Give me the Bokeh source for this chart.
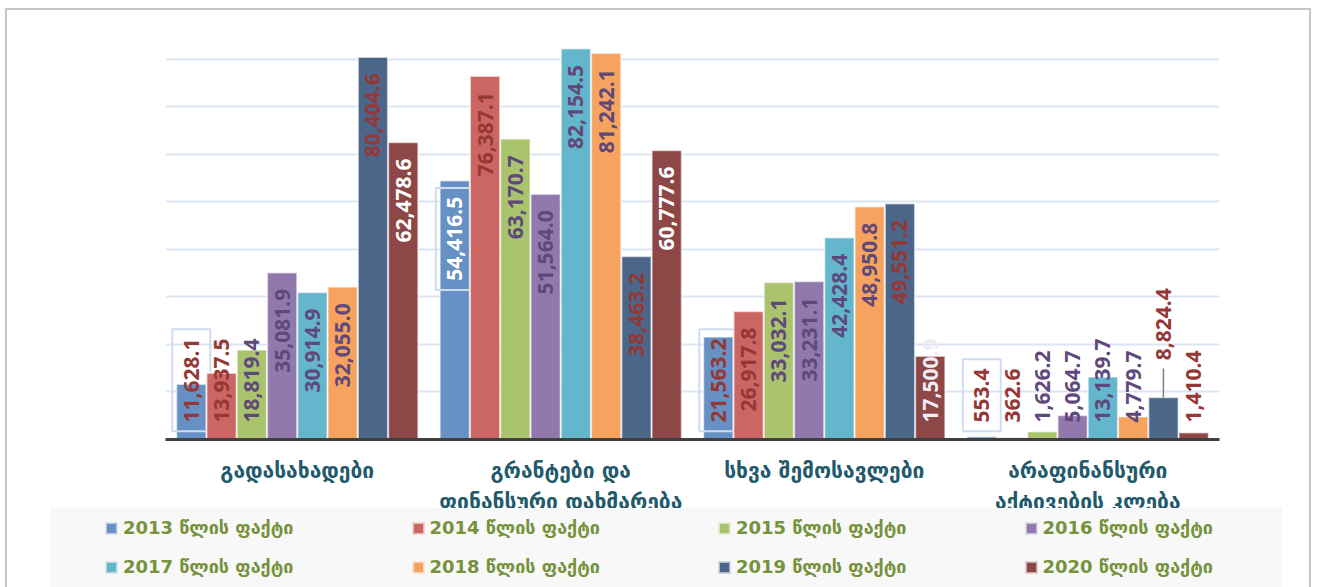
import math
from bokeh.plotting import figure
from bokeh.layouts import column
from bokeh.models import (ColumnDataSource, FactorRange, Range1d, FixedTicker, Div)
from bokeh.transform import dodge
from bokeh.core.properties import value
from bokeh.embed import file_html
from bokeh.resources import INLINE

# ---------------- data ----------------
categories = ["გადასახადები", "გრანტები და\nფინანსური დახმარება",
              "სხვა შემოსავლები", "არაფინანსური\nაქტივების კლება"]
years = [2013, 2014, 2015, 2016, 2017, 2018, 2019, 2020]
v2013 = [11628.1, 54416.5, 21563.2, 553.4]
v2014 = [13937.5, 76387.1, 26917.8, 362.6]
v2015 = [18819.4, 63170.7, 33032.1, 1626.2]
v2016 = [35081.9, 51564.0, 33231.1, 5064.7]
v2017 = [30914.9, 82154.5, 42428.4, 13139.7]
v2018 = [32055.0, 81242.1, 48950.8, 4779.7]
v2019 = [80404.6, 38463.2, 49551.2, 8824.4]
v2020 = [62478.6, 60777.6, 17500.9, 1410.4]
series = [v2013, v2014, v2015, v2016, v2017, v2018, v2019, v2020]
legend_labels = [f"{y} წლის ფაქტი" for y in years]

# ---------------- style ----------------
bar_colors = ["#6791c5", "#cc6663", "#a9c46c", "#9279ad",
              "#63b6cc", "#f6a35f", "#4b6689", "#8c4746"]
R, P, W = "#953735", "#5f497a", "#ffffff"
label_colors = [
    [R, W, R, R],
    [R, R, R, R],
    [P, P, P, P],
    [P, P, P, P],
    [P, P, P, P],
    [P, P, P, P],
    [R, R, R, R],
    [W, W, "#f1edf5", R],
]
boxed_series = 0            # 2013 labels have a frame
lifted = {(6, 3)}           # 2019 label of the last group sits above its bar

Y_MAX = 90000
FRAME_H = 426
PPU = FRAME_H / Y_MAX       # pixels per data unit
PITCH = 0.1149
BAR_W = 0.112
LBL_PX = 21
BORDER = "2px solid #c6c6c6"


def text_len(s):
    return sum(12.0 if ch.isdigit() else 6.0 for ch in s)


p = figure(x_range=FactorRange(factors=categories, range_padding=0),
           y_range=Range1d(0, Y_MAX),
           width=1306, height=513, output_backend="svg", toolbar_location=None,
           y_axis_location=None, min_border_left=158, min_border_right=94,
           min_border_top=1, min_border_bottom=84)
p.styles = {"border-top": BORDER, "border-left": BORDER, "border-right": BORDER}
p.outline_line_color = None
p.xgrid.visible = False
p.ygrid.ticker = FixedTicker(ticks=list(range(10000, Y_MAX + 1, 10000)))
p.ygrid.grid_line_color = "#dbe5f1"
p.ygrid.grid_line_width = 2

ax = p.xaxis[0]
ax.axis_line_color = "#404040"
ax.axis_line_width = 3
ax.major_tick_line_color = None
ax.minor_tick_line_color = None
ax.major_label_standoff = 13
ax.major_label_text_font = "DejaVu Sans"
ax.major_label_text_font_style = "bold"
ax.major_label_text_font_size = "21px"
ax.major_label_text_color = "#22596b"
ax.major_label_text_line_height = 1.3

for i, (yr, vals) in enumerate(zip(years, series)):
    off = (i - 3.5) * PITCH
    labs, ly, al, cols, box_y, box_h = [], [], [], [], [], []
    lead0, lead1, lead_cat = [], [], []
    for j, v in enumerate(vals):
        s = f"{v:,.1f}"
        L = text_len(s)
        bar_px = v * PPU
        if (i, j) in lifted:
            y = v + 37 / PPU
            a = "left"
            cpx = v * PPU + 37 + L / 2
            lead_cat.append(categories[j]); lead0.append(v); lead1.append(v + 29 / PPU)
        elif bar_px >= 16 + L + 17:
            y = v - 16 / PPU
            a = "right"
            cpx = bar_px - 16 - L / 2
        else:
            y = 17 / PPU
            a = "left"
            cpx = 17 + L / 2
        labs.append(s); ly.append(y); al.append(a); cols.append(label_colors[i][j])
        box_y.append(cpx / PPU); box_h.append(L + 18)
    src = ColumnDataSource(dict(cat=categories, val=vals, lab=labs, ly=ly, align=al,
                                lcol=cols, by=box_y, bh=box_h))
    xd = dodge("cat", off, range=p.x_range)
    p.vbar(x=xd, top="val", width=BAR_W, source=src, fill_color=bar_colors[i],
           line_color="white", line_alpha=0.55, line_width=1.5)
    if i == boxed_series:
        p.rect(x=xd, y="by", width=38, height="bh", width_units="screen",
               height_units="screen", source=src, fill_color=None,
               line_color="#cfdcef", line_width=2)
    if lead_cat:
        lsrc = ColumnDataSource(dict(cat=lead_cat, y0=lead0, y1=lead1))
        ld = dodge("cat", off, range=p.x_range)
        p.segment(x0=ld, y0="y0", x1=ld, y1="y1", source=lsrc,
                  line_color="#7f7f7f", line_width=1.5)
    p.text(x=xd, y="ly", text="lab", source=src, angle=math.pi / 2,
           text_align="align", text_baseline="middle", text_color="lcol",
           text_font=value("Open Sans"), text_font_style="bold",
           text_font_size=f"{LBL_PX}px")

# ---------------- legend strip (HTML) ----------------
NCOLS = 4
cells = []
for k, (lab, col) in enumerate(zip(legend_labels, bar_colors)):
    r, c = divmod(k, NCOLS)
    cells.append(
        f'<div style="position:absolute;left:{56 + 306.5 * c:.1f}px;top:{8 + 39 * r}px;'
        f'height:24px;display:flex;align-items:center;white-space:nowrap;">'
        f'<span style="display:inline-block;width:11px;height:11px;background:{col};'
        f'border:1px solid rgba(255,255,255,0.55);outline:1px solid {col}33;'
        f'margin-right:6px;"></span>'
        f'<span>{lab}</span></div>')
html = ('<div style="position:relative;box-sizing:border-box;width:1306px;height:79px;'
        'border-left:' + BORDER + ';border-right:' + BORDER + ';">'
        '<div style="position:absolute;left:43px;top:0;width:1232px;height:79px;'
        'background:#f8f8f8;font-family:\'DejaVu Sans\';font-weight:bold;'
        'font-size:18px;color:#76923c;">' + "".join(cells) + '</div></div>')
leg = Div(text=html, width=1306, height=79, margin=(-13, 0, 0, 0))

layout = column(p, leg, margin=(8, 0, 0, 5), spacing=0)
open("out.html", "w").write(file_html(layout, INLINE))
